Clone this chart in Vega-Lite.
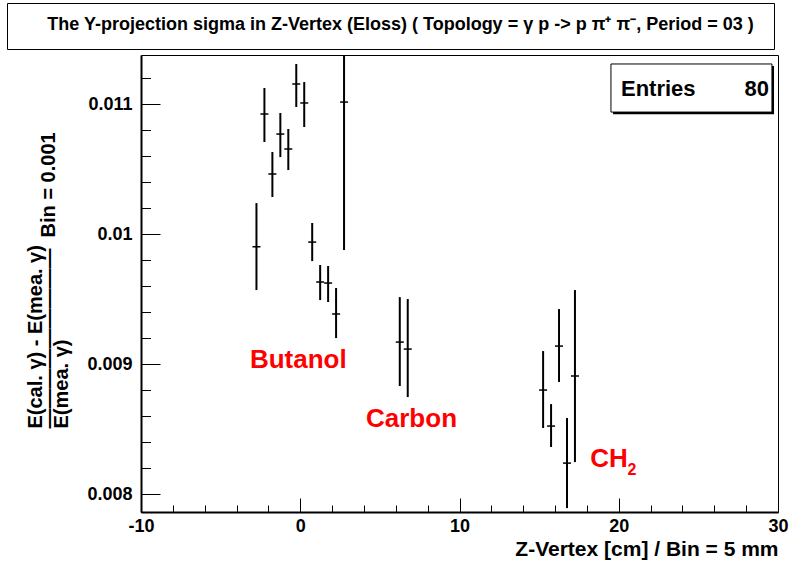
{
  "$schema": "https://vega.github.io/schema/vega-lite/v6.json",
  "padding": {"left": 4, "top": 2, "right": 0, "bottom": 0},
  "spacing": 4,
  "config": {
    "font": "Liberation Sans",
    "view": {"stroke": "black", "strokeWidth": 1}
  },
  "datasets": {
    "points": [
      {"z": -2.75, "v": 0.009902, "lo": 0.009569, "hi": 0.010238},
      {"z": -2.25, "v": 0.010923, "lo": 0.010708, "hi": 0.011123},
      {"z": -1.75, "v": 0.010462, "lo": 0.010285, "hi": 0.010631},
      {"z": -1.25, "v": 0.010769, "lo": 0.010592, "hi": 0.010931},
      {"z": -0.75, "v": 0.010654, "lo": 0.010492, "hi": 0.010808},
      {"z": -0.25, "v": 0.011154, "lo": 0.010977, "hi": 0.011308},
      {"z": 0.25, "v": 0.011008, "lo": 0.010823, "hi": 0.011169},
      {"z": 0.75, "v": 0.009938, "lo": 0.009792, "hi": 0.010085},
      {"z": 1.25, "v": 0.009631, "lo": 0.009492, "hi": 0.009762},
      {"z": 1.75, "v": 0.009623, "lo": 0.009477, "hi": 0.009754},
      {"z": 2.25, "v": 0.009385, "lo": 0.0092, "hi": 0.009585},
      {"z": 2.75, "v": 0.011015, "lo": 0.009877, "hi": 0.012153},
      {"z": 6.25, "v": 0.009169, "lo": 0.008831, "hi": 0.009515},
      {"z": 6.75, "v": 0.009115, "lo": 0.008746, "hi": 0.0095},
      {"z": 15.25, "v": 0.0088, "lo": 0.008508, "hi": 0.0091},
      {"z": 15.75, "v": 0.008523, "lo": 0.008362, "hi": 0.008692},
      {"z": 16.25, "v": 0.009138, "lo": 0.008862, "hi": 0.009423},
      {"z": 16.75, "v": 0.008238, "lo": 0.007892, "hi": 0.008585},
      {"z": 17.25, "v": 0.008908, "lo": 0.008246, "hi": 0.009569}
    ],
    "labels": [
      {"label": "Butanol", "z": -3.16, "v": 0.008969},
      {"label": "Carbon", "z": 4.13, "v": 0.008515},
      {"label": "CH", "z": 18.21, "v": 0.008208}
    ],
    "subs": [
      {"label": "2", "z": 20.55, "v": 0.008146}
    ],
    "stats": [
      {"name": "Entries", "value": "80"}
    ],
    "title": [
      {"t": "The Y-projection sigma in Z-Vertex (Eloss) ( Topology = γ p -> p π⁺ π⁻, Period = 03 )"}
    ]
  },
  "vconcat": [
    {
      "width": 767,
      "height": 46,
      "view": {"stroke": "black", "strokeWidth": 1},
      "data": {"name": "title"},
      "mark": {"type": "text", "fontSize": 18, "fontWeight": "bold", "font": "Liberation Sans", "dx": 10, "dy": -1, "color": "black"},
      "encoding": {"text": {"field": "t", "type": "nominal"}}
    },
    {
      "spacing": 13,
      "hconcat": [
        {
          "width": 1,
          "height": 10,
          "view": {"stroke": null},
          "data": {"name": "stats"},
          "mark": {"type": "point", "opacity": 0}
        },
        {
          "width": 637,
          "height": 457,
          "resolve": {"axis": {"x": "independent", "y": "independent"}},
          "layer": [
            {
              "layer": [
                {
                  "data": {"name": "points"},
                  "mark": {"type": "rule", "strokeWidth": 2, "color": "black", "clip": true},
                  "encoding": {
                    "x": {
                      "field": "z", "type": "quantitative",
                      "scale": {"domain": [-10, 30], "nice": false, "zero": false},
                      "axis": {
                        "orient": "bottom",
                        "title": "Z-Vertex [cm] / Bin = 5 mm",
                        "titleAnchor": "end",
                        "titleFontSize": 21, "titleFontWeight": "bold", "titleColor": "black",
                        "titlePadding": 3,
                        "values": [-10, 0, 10, 20, 30],
                        "labelExpr": "'' + datum.value",
                        "labelFontSize": 18, "labelFontWeight": "bold", "labelColor": "black",
                        "labelPadding": 19,
                        "labelFlush": false,
                        "labelOverlap": false,
                        "tickSize": -14,
                        "tickColor": "black", "tickWidth": 1,
                        "domainColor": "black", "domainWidth": 2,
                        "grid": false
                      }
                    },
                    "y": {
                      "field": "lo", "type": "quantitative",
                      "scale": {"domain": [0.007862, 0.011377], "nice": false, "zero": false},
                      "axis": {
                        "orient": "left",
                        "title": ["E(cal. γ) - E(mea. γ)", "—————————\u00a0\u00a0Bin = 0.001", "\u00a0\u00a0\u00a0\u00a0\u00a0\u00a0\u00a0\u00a0E(mea. γ)"],
                        "titleX": -100,
                        "titleY": 373,
                        "titleAngle": 270,
                        "titleAlign": "left",
                        "titleBaseline": "alphabetic",
                        "titleLineHeight": 13,
                        "titleFontSize": 20, "titleFontWeight": "bold", "titleColor": "black",
                        "values": [0.008, 0.009, 0.01, 0.011],
                        "format": "~g",
                        "labelFontSize": 18, "labelFontWeight": "bold", "labelColor": "black",
                        "labelPadding": 28,
                        "labelFlush": false,
                        "labelOverlap": false,
                        "tickSize": -19,
                        "tickColor": "black", "tickWidth": 1,
                        "domainColor": "black", "domainWidth": 2,
                        "grid": false
                      }
                    },
                    "y2": {"field": "hi"}
                  }
                },
                {
                  "data": {"name": "labels"},
                  "mark": {"type": "text", "align": "left", "baseline": "alphabetic", "fontSize": 26, "fontWeight": "bold", "color": "#ff0000", "font": "Liberation Sans"},
                  "encoding": {
                    "x": {"field": "z", "type": "quantitative"},
                    "y": {"field": "v", "type": "quantitative"},
                    "text": {"field": "label", "type": "nominal"}
                  }
                },
                {
                  "data": {"name": "subs"},
                  "mark": {"type": "text", "align": "left", "baseline": "alphabetic", "fontSize": 16, "fontWeight": "bold", "color": "#ff0000", "font": "Liberation Sans"},
                  "encoding": {
                    "x": {"field": "z", "type": "quantitative"},
                    "y": {"field": "v", "type": "quantitative"},
                    "text": {"field": "label", "type": "nominal"}
                  }
                },
                {
                  "data": {"name": "stats"},
                  "mark": {"type": "rect", "fill": "black"},
                  "encoding": {
                    "x": {"datum": 19.64, "type": "quantitative"},
                    "x2": {"datum": 29.75},
                    "y": {"datum": 0.011292, "type": "quantitative"},
                    "y2": {"datum": 0.010922}
                  }
                },
                {
                  "data": {"name": "stats"},
                  "mark": {"type": "rect", "fill": "white", "stroke": "black", "strokeWidth": 1},
                  "encoding": {
                    "x": {"datum": 19.51, "type": "quantitative"},
                    "x2": {"datum": 29.62},
                    "y": {"datum": 0.011308, "type": "quantitative"},
                    "y2": {"datum": 0.010938}
                  }
                },
                {
                  "data": {"name": "stats"},
                  "mark": {"type": "text", "align": "left", "baseline": "alphabetic", "fontSize": 22, "fontWeight": "bold", "color": "black", "font": "Liberation Sans"},
                  "encoding": {
                    "x": {"datum": 20.14, "type": "quantitative"},
                    "y": {"datum": 0.011062, "type": "quantitative"},
                    "text": {"field": "name", "type": "nominal"}
                  }
                },
                {
                  "data": {"name": "stats"},
                  "mark": {"type": "text", "align": "right", "baseline": "alphabetic", "fontSize": 22, "fontWeight": "bold", "color": "black", "font": "Liberation Sans"},
                  "encoding": {
                    "x": {"datum": 29.43, "type": "quantitative"},
                    "y": {"datum": 0.011062, "type": "quantitative"},
                    "text": {"field": "value", "type": "nominal"}
                  }
                }
              ]
            },
            {
              "data": {"name": "points"},
              "mark": {"type": "tick", "orient": "horizontal", "size": 8, "thickness": 1.5, "color": "black", "opacity": 1},
              "encoding": {
                "x": {
                  "field": "z", "type": "quantitative",
                  "axis": {
                    "orient": "bottom",
                    "title": null,
                    "labels": false,
                    "domain": false,
                    "grid": false,
                    "values": [-8, -6, -4, -2, 2, 4, 6, 8, 12, 14, 16, 18, 22, 24, 26, 28],
                    "tickSize": -7,
                    "tickColor": "black", "tickWidth": 1
                  }
                },
                "y": {
                  "field": "v", "type": "quantitative",
                  "axis": {
                    "orient": "left",
                    "title": null,
                    "labels": false,
                    "domain": false,
                    "grid": false,
                    "values": [0.0082, 0.0084, 0.0086, 0.0088, 0.0092, 0.0094, 0.0096, 0.0098, 0.0102, 0.0104, 0.0106, 0.0108, 0.0112],
                    "tickSize": -9.5,
                    "tickColor": "black", "tickWidth": 1
                  }
                }
              }
            }
          ]
        }
      ]
    }
  ]
}
